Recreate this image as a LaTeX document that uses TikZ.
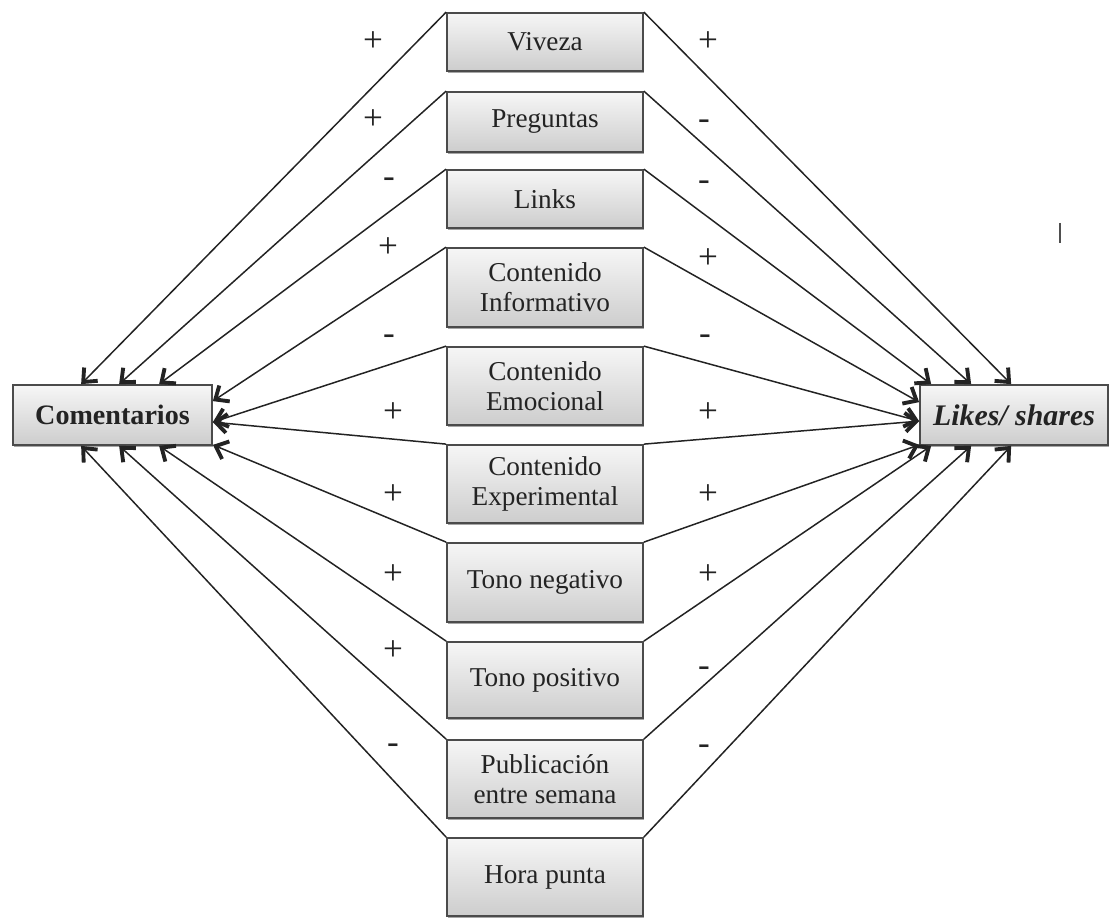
\documentclass[tikz,border=0pt]{standalone}
\usepackage{fontspec}
\setmainfont{Liberation Serif}
\usepackage{tikz}
\usetikzlibrary{arrows.meta, positioning, calc, shadows}
\definecolor{mydark}{RGB}{35,35,35}
\definecolor{myframe}{RGB}{75,75,75}
\definecolor{boxtop}{RGB}{246,246,246}
\definecolor{boxbot}{RGB}{205,205,205}
\tikzset{
  factor/.style={rectangle, draw=myframe, top color=boxtop, bottom color=boxbot,
    minimum width=3.92cm, align=center, line width=1pt, text=mydark,
    font=\fontsize{15.5}{17}\selectfont,
    drop shadow={shadow xshift=0.6pt, shadow yshift=-1.3pt, opacity=0.35, fill=black}},
  outcome/.style={factor, minimum height=1.2cm},
  sign/.style={font=\fontsize{20}{20}\selectfont, text=mydark, inner sep=0pt},
  arrow/.style={-{Straight Barb[length=2.2mm, width=3.8mm, line width=2.2pt]},
    line width=0.85pt, color=mydark}
}

\begin{document}
\begin{tikzpicture}[x=0.02cm, y=-0.02cm]
  \useasboundingbox (0,0) rectangle (1110,918);
  % outcomes
  \node[outcome, minimum width=3.98cm, font=\fontsize{16}{17}\selectfont\bfseries] (com) at (112.5,415) {Comentarios};
  \node[outcome, minimum width=3.76cm, font=\fontsize{17}{17}\selectfont\bfseries\itshape] (lik) at (1014,415) {Likes/ shares};
  % factors
  \node[factor, minimum height=1.16cm] (viv) at (545,42) {Viveza};
  \node[factor, minimum height=1.2cm] (pre) at (545,122) {Preguntas};
  \node[factor, minimum height=1.16cm] (lin) at (545,199) {Links};
  \node[factor, minimum height=1.58cm] (inf) at (545,287.5) {Contenido\\Informativo};
  \node[factor, minimum height=1.56cm] (emo) at (545,386) {Contenido\\Emocional};
  \node[factor, minimum height=1.56cm] (exp) at (545,484) {Contenido\\Experimental};
  \node[factor, minimum height=1.58cm] (neg) at (545,582.5) {Tono negativo};
  \node[factor, minimum height=1.52cm] (pos) at (545,680) {Tono positivo};
  \node[factor, minimum height=1.56cm] (pub) at (545,779) {Publicación\\entre semana};
  \node[factor, minimum height=1.56cm] (hor) at (545,877) {Hora punta};
  % to Comentarios
  \draw[arrow] (viv.north west) -- ($(com.north west)+(69,0)$);
  \draw[arrow] (pre.north west) -- ($(com.north west)+(107,0)$);
  \draw[arrow] (lin.north west) -- ($(com.north west)+(147,0)$);
  \draw[arrow] (inf.north west) -- ($(com.north east)+(0,17)$);
  \draw[arrow] (emo.north west) -- ($(com.north east)+(0,38)$);
  \draw[arrow] (exp.north west) -- ($(com.north east)+(0,38)$);
  \draw[arrow] (neg.north west) -- ($(com.south east)+(0,-1)$);
  \draw[arrow] (pos.north west) -- ($(com.south west)+(147,0)$);
  \draw[arrow] (pub.north west) -- ($(com.south west)+(107,0)$);
  \draw[arrow] (hor.north west) -- ($(com.south west)+(69,0)$);
  % to Likes/shares
  \draw[arrow] (viv.north east) -- ($(lik.north west)+(92,0)$);
  \draw[arrow] (pre.north east) -- ($(lik.north west)+(52,0)$);
  \draw[arrow] (lin.north east) -- ($(lik.north west)+(12,0)$);
  \draw[arrow] (inf.north east) -- ($(lik.north west)+(0,18)$);
  \draw[arrow] (emo.north east) -- ($(lik.north west)+(0,37)$);
  \draw[arrow] (exp.north east) -- ($(lik.north west)+(0,37)$);
  \draw[arrow] (neg.north east) -- ($(lik.south west)+(0,-1)$);
  \draw[arrow] (pos.north east) -- ($(lik.south west)+(12,0)$);
  \draw[arrow] (pub.north east) -- ($(lik.south west)+(52,0)$);
  \draw[arrow] (hor.north east) -- ($(lik.south west)+(92,0)$);
  % signs
  \foreach \x/\y/\s [count=\i] in {373/42/+, 373/120/+, 389/183/-, 388/248/+, 389/340/-,
      393/413/+, 393/495/+, 393/575/+, 393/651/+, 393/749/-}
    \node[sign] (sl\i) at (\x,\y) {\s};
  \foreach \x/\y/\s [count=\i] in {708/42/+, 704/125/-, 704/186/-, 708/259/+, 705/340/-,
      708/413/+, 708/495/+, 708/575/+, 704/672/-, 704/750/-}
    \node[sign] (sr\i) at (\x,\y) {\s};
  % stray mark
  \draw[line width=1.2pt, color=mydark!80] (1060,223) -- (1060,243);
\end{tikzpicture}
\end{document}
